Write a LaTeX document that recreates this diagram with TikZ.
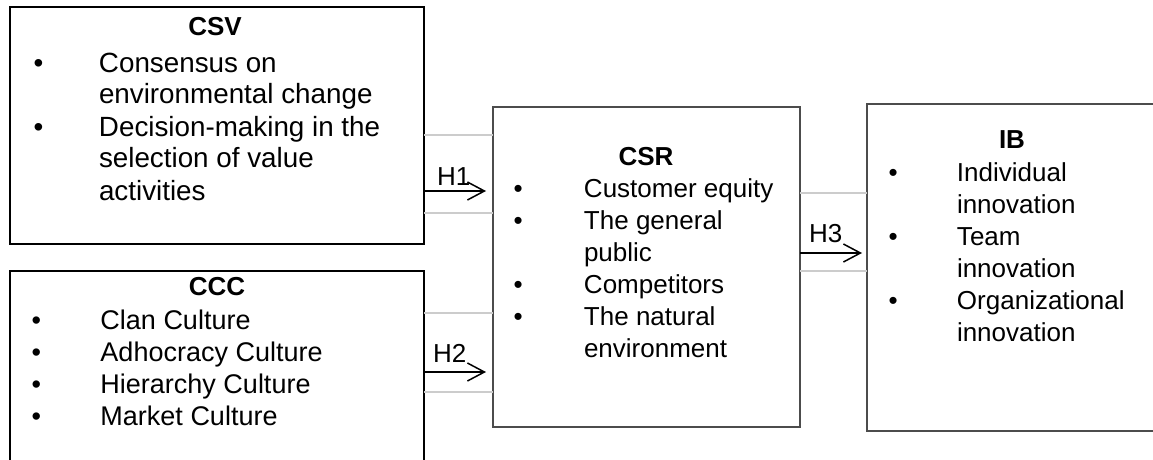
\documentclass[tikz,border=0pt]{standalone}
\usepackage{fontspec}
\setmainfont{Liberation Sans}
\usetikzlibrary{arrows.meta}
\begin{document}
\begin{tikzpicture}[x=1pt,y=-1pt,
  every node/.style={inner sep=0pt, outer sep=0pt},
  strongbox/.style={draw=black, line width=2pt, anchor=north west},
  softbox/.style={draw=black!70, line width=1.2pt, anchor=north west},
  txt/.style={font=\fontsize{26}{32}\selectfont, anchor=base west},
  ttl/.style={font=\fontsize{26}{32}\selectfont\bfseries, anchor=base},
  rail/.style={draw=black!20, line width=1.5pt},
  arr/.style={draw=black, line width=1.5pt, -{Straight Barb[length=17pt,width=18pt]}},
  hlab/.style={font=\fontsize{26}{32}\selectfont, anchor=base west}]
\useasboundingbox (0,0) rectangle (1153,460);
\clip (0,0) rectangle (1153,460);
\fill[white] (0,0) rectangle (1153,460);
% boxes
\node[strongbox, minimum width=414pt, minimum height=237pt] (csv) at (10,7) {};
\node[strongbox, minimum width=414pt, minimum height=220pt] (ccc) at (10,271) {};
\node[softbox, minimum width=307pt, minimum height=320pt] (csr) at (493,107) {};
\node[softbox, line width=1.5pt, minimum width=300pt, minimum height=327pt] (ib) at (867,104) {};
% titles
\node[ttl] (csvt) at (215,36) {CSV};
\node[ttl] (ccct) at (217,295) {CCC};
\node[ttl] (csrt) at (646,165) {CSR};
\node[ttl] (ibt) at (1012,148) {IB};
% lists
\node[txt, font=\fontsize{27.8}{32}\selectfont] (csvl) at (33.5,72) {\begin{tabular}[t]{@{}p{65.5pt}@{}l@{}}
\textbullet & Consensus on\\ & environmental change\\
\textbullet & Decision-making in the\\ & selection of value\\ & activities\end{tabular}};
\node[txt, font=\fontsize{27}{32}\selectfont] (cccl) at (31.5,329) {\begin{tabular}[t]{@{}p{69pt}@{}l@{}}
\textbullet & Clan Culture\\ \textbullet & Adhocracy Culture\\
\textbullet & Hierarchy Culture\\ \textbullet & Market Culture\end{tabular}};
\node[txt] (csrl) at (513.5,197) {\begin{tabular}[t]{@{}p{70.5pt}@{}l@{}}
\textbullet & Customer equity\\ \textbullet & The general\\ & public\\
\textbullet & Competitors\\ \textbullet & The natural\\ & environment\end{tabular}};
\node[txt] (ibl) at (888.5,181) {\begin{tabular}[t]{@{}p{68.5pt}@{}l@{}}
\textbullet & Individual\\ & innovation\\ \textbullet & Team\\ & innovation\\
\textbullet & Organizational\\ & innovation\end{tabular}};
% connectors H1
\draw[rail] (csv.east |- 0,135) -- (csr.west |- 0,135);
\draw[rail] (csv.east |- 0,213) -- (csr.west |- 0,213);
\draw[arr, shorten >=7pt] (csv.east |- 0,191) -- (csr.west |- 0,191);
\node[hlab] (h1) at (437,185) {H1};
% connectors H2
\draw[rail] (ccc.east |- 0,313) -- (csr.west |- 0,313);
\draw[rail] (ccc.east |- 0,392) -- (csr.west |- 0,392);
\draw[arr, shorten >=7pt] (ccc.east |- 0,372) -- (csr.west |- 0,372);
\node[hlab] (h2) at (433,362) {H2};
% connectors H3
\draw[rail] (csr.east |- 0,193) -- (ib.west |- 0,193);
\draw[rail] (csr.east |- 0,271) -- (ib.west |- 0,271);
\draw[arr, shorten >=5pt] (csr.east |- 0,253) -- (ib.west |- 0,253);
\node[hlab] (h3) at (809,242) {H3};
\end{tikzpicture}
\end{document}
